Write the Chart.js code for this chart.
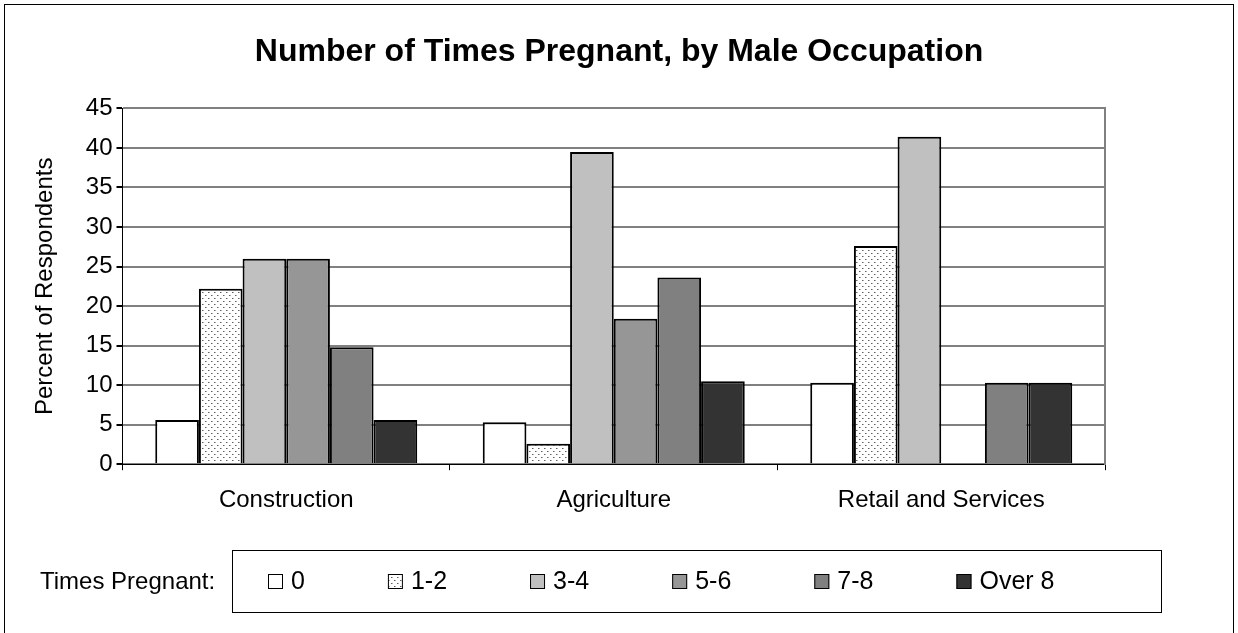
<!DOCTYPE html>
<html>
<head>
<meta charset="utf-8">
<script src="https://cdn.jsdelivr.net/npm/chart.js@4.4.0/dist/chart.umd.min.js"></script>
<style>
html, body { margin: 0; padding: 0; background: #fff; overflow: hidden; }
</style>
</head>
<body>
<canvas id="myChart" width="1238" height="633"></canvas>
<script>
// data (percent of respondents)
var occupations = ['Construction', 'Agriculture', 'Retail and Services'];
var groupLabels = ['0', '1-2', '3-4', '5-6', '7-8', 'Over 8'];
var times0 = [5.6, 5.3, 10.3];
var times1to2 = [22.2, 2.6, 27.6];
var times3to4 = [26.0, 39.5, 41.4];
var times5to6 = [26.0, 18.4, null];
var times7to8 = [14.8, 23.6, 10.3];
var timesOver8 = [5.6, 10.5, 10.3];
var yMax = 45;
var yStep = 5;

var FONT = '"Liberation Sans", Arial, sans-serif';

var ctx = document.getElementById('myChart').getContext('2d');

function dotPattern() {
    var c = document.createElement('canvas');
    c.width = 6; c.height = 6;
    var g = c.getContext('2d');
    g.fillStyle = '#ffffff';
    g.fillRect(0, 0, 6, 6);
    g.fillStyle = '#606060';
    g.fillRect(1, 1, 1, 1);
    g.fillRect(4, 4, 1, 1);
    g.fillStyle = '#b0b0b0';
    g.fillRect(2, 1, 1, 1);
    g.fillRect(5, 4, 1, 1);
    return ctx.createPattern(c, 'repeat');
}

var fills = ['#ffffff', dotPattern(), '#c0c0c0', '#969696', '#808080', '#333333'];
var series = [times0, times1to2, times3to4, times5to6, times7to8, timesOver8];

var datasets = [];
for (let i = 0; i < series.length; i++) {
    datasets.push({
        label: groupLabels[i],
        data: series[i],
        backgroundColor: fills[i],
        borderColor: '#000000',
        borderWidth: 2,
        categoryPercentage: 0.8,
        barPercentage: 1.0
    });
}

// outer frame + the boxed legend with its caption
var frameAndLegend = {
    id: 'frameAndLegend',
    afterDraw: function(chart) {
        var c = chart.ctx;
        c.save();
        c.strokeStyle = '#000';
        c.lineWidth = 1;
        c.strokeRect(4.5, 4.5, 1229, 700);
        c.strokeRect(232.5, 550.5, 929, 62);
        c.font = '24px ' + FONT;
        c.textBaseline = 'middle';
        c.fillStyle = '#000';
        c.fillText('Times Pregnant:', 40, 582);
        c.font = '25px ' + FONT;
        var x = 268;
        chart.data.datasets.forEach(function(ds) {
            c.fillStyle = ds.backgroundColor;
            c.fillRect(x, 574, 15, 15);
            c.strokeRect(x + 0.5, 574.5, 14, 14);
            c.fillStyle = '#000';
            c.fillText(ds.label, x + 23, 582);
            x += 23 + c.measureText(ds.label).width + 83;
        });
        c.restore();
    }
};

new Chart(ctx, {
    type: 'bar',
    data: {
        labels: occupations,
        datasets: datasets
    },
    options: {
        responsive: false,
        devicePixelRatio: 1,
        animation: false,
        layout: {
            padding: { left: 0, right: 0, top: 14, bottom: 102 }
        },
        plugins: {
            legend: { display: false },
            tooltip: { enabled: false },
            title: {
                display: true,
                text: 'Number of Times Pregnant, by Male Occupation',
                color: '#000',
                font: { family: FONT, size: 32, weight: 'bold' },
                padding: { top: 19, bottom: 37 }
            }
        },
        scales: {
            x: {
                grid: {
                    display: true,
                    drawOnChartArea: false,
                    drawTicks: true,
                    tickLength: 6,
                    tickColor: '#000',
                    offset: true
                },
                border: { display: true, color: '#000', width: 1 },
                ticks: {
                    color: '#000',
                    font: { family: FONT, size: 24 },
                    padding: 16,
                    maxRotation: 0
                }
            },
            y: {
                min: 0,
                max: yMax,
                grid: {
                    color: '#808080',
                    lineWidth: 2,
                    drawTicks: true,
                    tickLength: 6,
                    tickColor: '#000'
                },
                border: { display: true, color: '#000', width: 1 },
                ticks: {
                    stepSize: yStep,
                    color: '#000',
                    font: { family: FONT, size: 24 },
                    padding: 4
                },
                title: {
                    display: true,
                    text: 'Percent of Respondents',
                    color: '#000',
                    font: { family: FONT, size: 24 },
                    padding: { top: 31, bottom: 22 }
                }
            },
            y2: {
                position: 'right',
                min: 0,
                max: yMax,
                grid: { drawOnChartArea: false, drawTicks: false },
                border: { display: true, color: '#808080', width: 2 },
                ticks: { display: false },
                afterFit: function(scale) { scale.width = 133; }
            }
        }
    },
    plugins: [frameAndLegend]
});
</script>
</body>
</html>
